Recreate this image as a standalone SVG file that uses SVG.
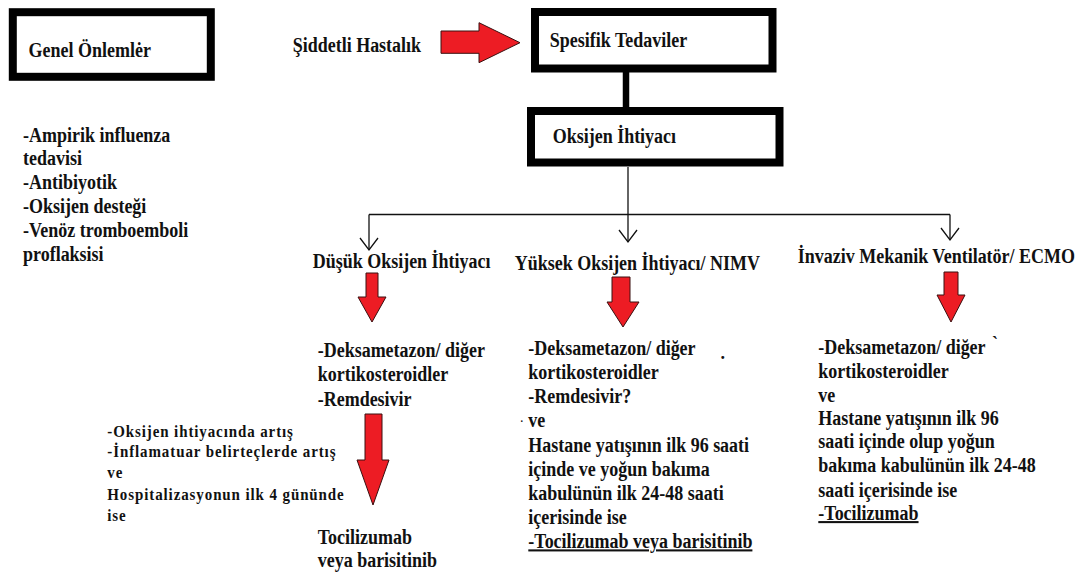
<svg xmlns="http://www.w3.org/2000/svg" width="1078" height="576" viewBox="0 0 1078 576">
<style>
.box{fill:#fff;stroke:#000;stroke-width:8}
.t{font-family:"Liberation Serif","Times New Roman",serif;font-weight:bold;font-size:18px;fill:#111}
.s{font-family:"Liberation Serif","Times New Roman",serif;font-weight:bold;font-size:15px;letter-spacing:0.9px;fill:#111}
.red{fill:#ed1c24;stroke:#3a1010;stroke-width:1}
.ln{stroke:#111;stroke-width:1.3;fill:none}
.u{text-decoration:underline}
</style>
<defs>
<marker id="v" markerUnits="userSpaceOnUse" viewBox="-14 -11 16 22" markerWidth="16" markerHeight="22" refX="0" refY="0" orient="auto">
<path d="M-12,-9 L0,0 L-12,9" fill="none" stroke="#111" stroke-width="1.3"/>
</marker>
</defs>
<rect width="1078" height="576" fill="#fff"/>

<g id="connectors">
<line x1="626" y1="72" x2="626" y2="107" stroke="#000" stroke-width="6.5"/>
<line class="ln" x1="369" y1="214.5" x2="950" y2="214.5"/>
<line class="ln" x1="369" y1="214.5" x2="369" y2="250" marker-end="url(#v)"/>
<line class="ln" x1="628" y1="167" x2="628" y2="242" marker-end="url(#v)"/>
<line class="ln" x1="950" y1="214.5" x2="950" y2="240" marker-end="url(#v)"/>
<polygon class="red" points="441,31 479,31 479,22.7 520,42.7 479,62.7 479,53.3 441,53.3"/>
<polygon class="red" points="366,273 378,273 378,297 386,297 372,322 358,297 366,297"/>
<polygon class="red" points="365,414 382,414 382,460 389,460 373,505 357,460 365,460"/>
<polygon class="red" points="612,277 630,277 630,302 639,302 623,327 607,302 612,302"/>
<polygon class="red" points="944,272 958,272 958,295 965,295 951,322 937,295 944,295"/>
</g>

<g id="genel">
<rect class="box" x="12.8" y="12.2" width="198" height="64.6"/>
<text class="t" transform="translate(28.6,56.7) scale(1,1.15)">Genel Önlemlėr</text>
</g>

<g id="siddetli">
<text class="t" transform="translate(292.7,51.7) scale(1,1.15)">Şiddetli Hastalık</text>
</g>

<g id="spesifik">
<rect class="box" x="535" y="12" width="237.5" height="56.5"/>
<text class="t" transform="translate(549.8,46.7) scale(1,1.15)">Spesifik Tedaviler</text>
</g>

<g id="oksijen">
<rect class="box" x="531" y="111" width="248.5" height="51.5"/>
<text class="t" transform="translate(552.7,143.3) scale(1,1.15)">Oksijen İhtiyacı</text>
</g>

<g id="genel-list">
<text class="t" transform="translate(23,141.5) scale(1,1.15)">-Ampirik influenza</text>
<text class="t" transform="translate(23,165) scale(1,1.15)">tedavisi</text>
<text class="t" transform="translate(23,188.5) scale(1,1.15)">-Antibiyotik</text>
<text class="t" transform="translate(23,212.5) scale(1,1.15)">-Oksijen desteği</text>
<text class="t" transform="translate(23,237) scale(1,1.15)">-Venöz tromboemboli</text>
<text class="t" transform="translate(23,261) scale(1,1.15)">proflaksisi</text>
</g>

<g id="dusuk">
<text class="t" transform="translate(312.7,268.3) scale(1,1.15)">Düşük Oksijen İhtiyacı</text>
</g>

<g id="yuksek">
<text class="t" transform="translate(514.7,270) scale(1,1.15)">Yüksek Oksijen İhtiyacı/ NIMV</text>
</g>

<g id="invaziv">
<text class="t" transform="translate(797.8,263.3) scale(1,1.15)">İnvaziv Mekanik Ventilatör/ ECMO</text>
</g>

<g id="dusuk-tedavi">
<text class="t" transform="translate(317.7,357.3) scale(1,1.15)">-Deksametazon/ diğer</text>
<text class="t" transform="translate(317.7,381) scale(1,1.15)">kortikosteroidler</text>
<text class="t" transform="translate(317.7,405.7) scale(1,1.15)">-Remdesivir</text>
</g>

<g id="kosul">
<text class="s" transform="translate(107.3,436.7) scale(1,1.12)">-Oksijen ihtiyacında artış</text>
<text class="s" transform="translate(107.3,457.3) scale(1,1.12)">-İnflamatuar belirteçlerde artış</text>
<text class="s" transform="translate(107.3,478.3) scale(1,1.12)">ve</text>
<text class="s" transform="translate(107.3,500) scale(1,1.12)">Hospitalizasyonun ilk 4 gününde</text>
<text class="s" transform="translate(107.3,520.7) scale(1,1.12)">ise</text>
</g>

<g id="tocilizumab1">
<text class="t" transform="translate(317.7,544) scale(1,1.15)">Tocilizumab</text>
<text class="t" transform="translate(317.7,566.7) scale(1,1.15)">veya barisitinib</text>
</g>

<g id="yuksek-tedavi">
<text class="t" transform="translate(528.3,355) scale(1,1.15)">-Deksametazon/ diğer</text>
<text class="t" x="720.5" y="359.3">.</text>
<text class="t" transform="translate(528.3,379.3) scale(1,1.15)">kortikosteroidler</text>
<text class="t" transform="translate(528.3,402.7) scale(1,1.15)">-Remdesivir?</text>
<text class="t" x="520.5" y="421.7" style="font-size:10px">.</text>
<text class="t" transform="translate(528.3,426.7) scale(1,1.15)">ve</text>
<text class="t" transform="translate(528.3,451.7) scale(1,1.15)">Hastane yatışının ilk 96 saati</text>
<text class="t" transform="translate(528.3,475.5) scale(1,1.15)">içinde ve yoğun bakıma</text>
<text class="t" transform="translate(528.3,500) scale(1,1.15)">kabulünün ilk 24-48 saati</text>
<text class="t" transform="translate(528.3,524) scale(1,1.15)">içerisinde ise</text>
<text class="t u" transform="translate(528.3,548.3) scale(1,1.15)">-Tocilizumab veya barisitinib</text>
</g>

<g id="invaziv-tedavi">
<text class="t" transform="translate(818.3,354.3) scale(1,1.15)">-Deksametazon/ diğer</text>
<text class="t" x="992" y="349">`</text>
<text class="t" transform="translate(818.3,378.3) scale(1,1.15)">kortikosteroidler</text>
<text class="t" transform="translate(818.3,401.7) scale(1,1.15)">ve</text>
<text class="t" transform="translate(818.3,425) scale(1,1.15)">Hastane yatışının ilk 96</text>
<text class="t" transform="translate(818.3,448.3) scale(1,1.15)">saati içinde olup yoğun</text>
<text class="t" transform="translate(818.3,472.3) scale(1,1.15)">bakıma kabulünün ilk 24-48</text>
<text class="t" transform="translate(818.3,496.7) scale(1,1.15)">saati içerisinde ise</text>
<text class="t u" transform="translate(818.3,520) scale(1,1.15)">-Tocilizumab</text>
</g>
</svg>
